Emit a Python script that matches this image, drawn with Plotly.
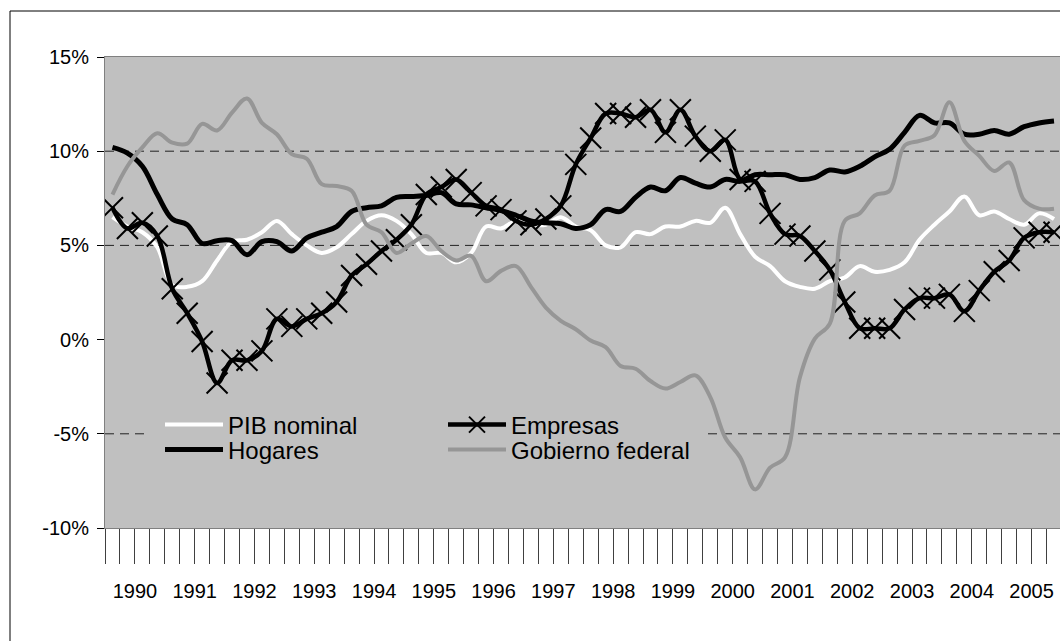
import plotly.graph_objects as go

# quarterly growth rates, 1990Q1 .. 2005Q4 (%)
years = ["1990", "1991", "1992", "1993", "1994", "1995", "1996", "1997",
         "1998", "1999", "2000", "2001", "2002", "2003", "2004", "2005"]

pib_nominal = [6.5, 6.0, 5.7, 4.9, 2.9, 2.8, 3.1, 4.2, 5.2, 5.3, 5.7, 6.3, 5.6, 5.0, 4.6, 4.9,
               5.6, 6.3, 6.6, 6.3, 5.6, 4.6, 4.6, 4.1, 4.6, 6.0, 5.9, 6.3, 6.1, 6.1, 6.5, 6.0,
               5.8, 5.0, 4.9, 5.7, 5.6, 6.0, 6.0, 6.3, 6.2, 7.0, 5.6, 4.4, 3.9, 3.1, 2.8, 2.7,
               3.1, 3.3, 3.9, 3.6, 3.7, 4.1, 5.3, 6.1, 6.8, 7.6, 6.6, 6.8, 6.4, 6.1, 6.7, 6.4]

empresas = [7.0, 5.9, 6.2, 5.5, 2.7, 1.4, -0.1, -2.3, -1.1, -1.1, -0.6, 1.1, 0.7, 1.1, 1.4, 2.0,
            3.4, 4.0, 4.7, 5.3, 6.1, 7.7, 8.1, 8.5, 7.8, 7.1, 6.9, 6.3, 6.1, 6.4, 7.1, 9.3,
            10.7, 12.0, 12.0, 11.8, 12.2, 11.0, 12.2, 10.8, 10.0, 10.6, 8.5, 8.4, 6.7, 5.6, 5.5, 4.7,
            3.7, 2.0, 0.6, 0.6, 0.6, 1.6, 2.2, 2.2, 2.4, 1.5, 2.6, 3.6, 4.2, 5.4, 5.7, 5.7]

hogares = [10.2, 9.9, 9.2, 7.7, 6.4, 6.1, 5.1, 5.25, 5.25, 4.5, 5.2, 5.2, 4.7, 5.4, 5.7, 6.0,
           6.8, 7.0, 7.1, 7.55, 7.6, 7.65, 7.8, 7.2, 7.15, 7.0, 6.85, 6.6, 6.3, 6.2, 6.15, 5.9,
           6.1, 6.9, 6.8, 7.55, 8.1, 7.9, 8.6, 8.3, 8.1, 8.5, 8.4, 8.75, 8.75, 8.75, 8.5, 8.6,
           9.0, 8.9, 9.2, 9.7, 10.1, 11.0, 11.9, 11.5, 11.5, 10.9, 10.9, 11.1, 10.9, 11.3, 11.5, 11.6]

gobierno = [7.7, 9.2, 10.2, 10.95, 10.45, 10.4, 11.45, 11.1, 12.05, 12.8, 11.5, 10.9, 9.85, 9.6, 8.25, 8.15,
            7.9, 6.1, 5.7, 4.6, 5.1, 5.5, 4.7, 4.2, 4.45, 3.1, 3.65, 3.9, 2.8, 1.7, 1.0, 0.55,
            -0.05, -0.4, -1.4, -1.55, -2.2, -2.6, -2.25, -1.9, -3.05, -5.2, -6.25, -7.95, -6.8, -6.25, -2.0, 0.05,
            0.85, 6.3, 6.7, 7.65, 7.9, 10.3, 10.55, 10.85, 12.6, 10.55, 9.75, 8.95, 9.4, 7.4, 6.95, 6.95]

y_ticks = [-10, -5, 0, 5, 10, 15]
y_labels = ["-10%", "-5%", "0%", "5%", "10%", "15%"]

FONT = "Liberation Sans, Arial, sans-serif"
n = len(pib_nominal)
x = list(range(n))
x_end = -0.5 + 955 / 14.945          # plot is cut at the right edge of the picture
quarter_edges = [q - 0.5 for q in range(n + 1)]
year_edges = [4 * k - 0.5 for k in range(len(years) + 1)]
year_mids = [4 * k + 1.5 for k in range(len(years))]

fig = go.Figure()

# series order as in the original workbook
fig.add_trace(go.Scatter(x=x, y=pib_nominal, name="PIB nominal", mode="lines",
                         line=dict(color="white", width=4, shape="spline"), legend="legend"))
fig.add_trace(go.Scatter(x=x, y=empresas, name="Empresas", mode="lines+markers",
                         line=dict(color="black", width=4.5, shape="spline"),
                         marker=dict(symbol="x-thin", size=21, line=dict(color="black", width=2)),
                         legend="legend3"))
fig.add_trace(go.Scatter(x=x, y=hogares, name="Hogares", mode="lines",
                         line=dict(color="black", width=5, shape="spline"), legend="legend2"))
fig.add_trace(go.Scatter(x=x, y=gobierno, name="Gobierno federal", mode="lines",
                         line=dict(color="#969696", width=4, shape="spline"), legend="legend4"))

# dashed gridlines (the -5% one is hidden behind the legend box)
grid = dict(type="line", xref="paper", yref="y", layer="below",
            line=dict(color="#222222", width=1, dash="9px,6px"))
for v in (10, 5):
    fig.add_shape(x0=0, x1=1, y0=v, y1=v, **grid)
fig.add_shape(x0=0, x1=(145 - 105) / 955, y0=-5, y1=-5, **grid)
fig.add_shape(x0=(708 - 105) / 955, x1=1, y0=-5, y1=-5, **grid)

# outer chart frame
fig.add_shape(type="rect", xref="paper", yref="paper", x0=-95 / 955, x1=1.05,
              y0=-0.5, y1=(528 - 11) / 471, line=dict(color="black", width=1))

leg = dict(xanchor="left", yanchor="middle", bgcolor="rgba(0,0,0,0)", borderwidth=0,
           itemwidth=58, font=dict(family=FONT, size=24, color="black"))
row1 = (528 - 425) / 471
row2 = (528 - 450) / 471
col1 = (160 - 105) / 955
col2 = (443 - 105) / 955

fig.update_layout(
    width=1060, height=641,
    margin=dict(l=105, r=0, t=57, b=113),
    paper_bgcolor="white",
    plot_bgcolor="#C0C0C0",
    font=dict(family=FONT, size=20, color="black"),
    showlegend=True,
    legend=dict(x=col1, y=row1, **leg),
    legend2=dict(x=col1, y=row2, **leg),
    legend3=dict(x=col2, y=row1, **leg),
    legend4=dict(x=col2, y=row2, **leg),
    xaxis=dict(range=[-0.5, x_end], tickvals=year_mids, ticktext=years, ticks="",
               showgrid=False, zeroline=False, showline=True, linecolor="#808080",
               mirror=True, ticklabelstandoff=45,
               tickfont=dict(family=FONT, size=20, color="black"),
               minor=dict(tickvals=quarter_edges, ticks="outside", ticklen=35,
                          tickcolor="#404040", tickwidth=1, showgrid=False)),
    xaxis2=dict(range=[-0.5, x_end], overlaying="x", anchor="free", side="bottom",
                position=(528 - 339) / 471, tickvals=quarter_edges, ticks="inside",
                ticklen=6, tickcolor="black", showline=True, linecolor="black",
                showticklabels=False, showgrid=False, zeroline=False),
    xaxis3=dict(range=[-0.5, x_end], overlaying="x", anchor="y", side="bottom",
                tickvals=year_edges, ticks="outside", ticklen=79, tickcolor="#808080",
                showline=False, showticklabels=False, showgrid=False, zeroline=False),
    yaxis=dict(range=[-10, 15], tickvals=y_ticks, ticktext=y_labels, ticks="outside",
               ticklen=7, tickcolor="black", showline=True, linecolor="#808080",
               showgrid=False, zeroline=False, ticklabelstandoff=4,
               tickfont=dict(family=FONT, size=20, color="black")),
)

# the page body has a default 8px margin; remove it so the chart sits at the window origin
fig.write_html("out.html", config={"displayModeBar": False},
               post_script="document.body.style.margin='0';")
